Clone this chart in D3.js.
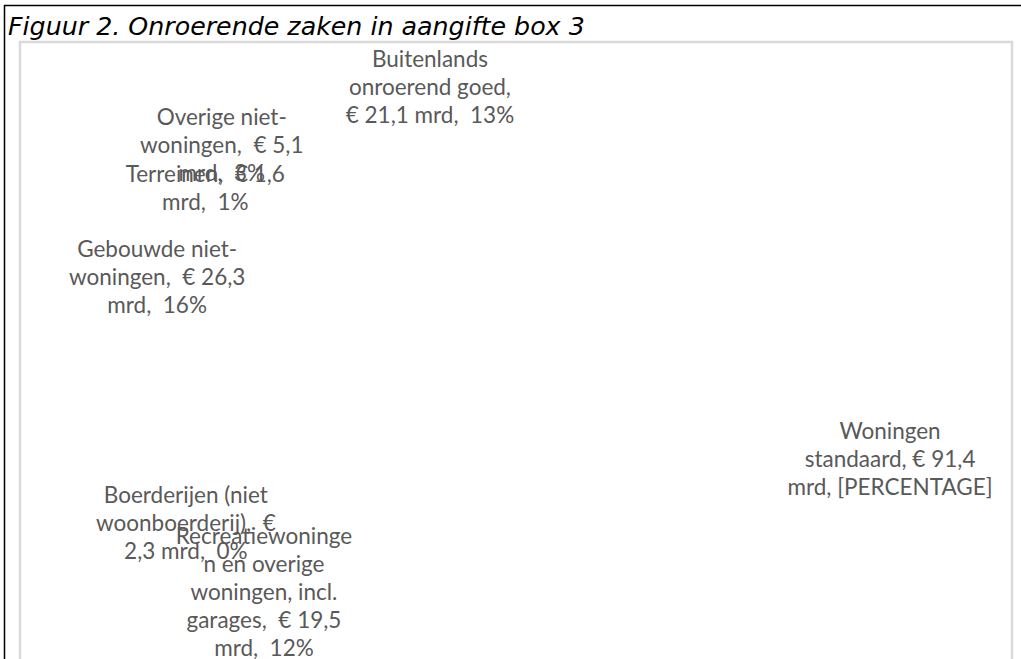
<!DOCTYPE html>
<html lang="nl">
  <head>
    <meta charset="UTF-8" />
    <title>Figuur 2</title>
    <script src="https://d3js.org/d3.v7.min.js"></script>
    <style>
      body { margin: 0; background: #fff; }
      .lbl { white-space: pre; }
    </style>
  </head>
  <body>
    <div id="chart"></div>
    <script>
      // slices, clockwise from 12 o'clock
      const categories = [
        "Woningen standaard",
        "Recreatiewoningen en overige woningen, incl. garages",
        "Boerderijen (niet woonboerderij)",
        "Gebouwde niet-woningen",
        "Terreinen",
        "Overige niet-woningen",
        "Buitenlands onroerend goed",
      ];
      const values = [91.4, 19.5, 2.3, 26.3, 1.6, 5.1, 21.1];
      // data labels as they wrap in the original
      const labelLines = [
        ["Woningen", "standaard, € 91,4", "mrd, [PERCENTAGE]"],
        ["Recreatiewoninge", "n en overige", "woningen, incl.", "garages,  € 19,5", "mrd,  12%"],
        ["Boerderijen (niet", "woonboerderij),  €", "2,3 mrd,  0%"],
        ["Gebouwde niet-", "woningen,  € 26,3", "mrd,  16%"],
        ["Terreinen,  € 1,6", "mrd,  1%"],
        ["Overige niet-", "woningen,  € 5,1", "mrd,  3%"],
        ["Buitenlands", "onroerend goed,", "€ 21,1 mrd,  13%"],
      ];

      // label nudges away from the arc centroid (best-fit placement)
      const nudge = [[93, 79], [-85, 31], [-89, 49], [-83, -53], [-77, -3], [-81, -17], [18, 6]];

      const width = 1021, height = 659;
      const cx = 520, cy = 340, radius = 230, labelR = 280;
      const lineH = 28;

      const svg = d3.select("#chart").append("svg")
        .attr("width", width).attr("height", height);

      // outer cell border (left + top)
      svg.append("line").attr("x1", 4.5).attr("x2", 4.5).attr("y1", 5).attr("y2", height)
        .attr("stroke", "#000").attr("stroke-width", 1.5);
      svg.append("line").attr("x1", 4).attr("x2", width).attr("y1", 5.5).attr("y2", 5.5)
        .attr("stroke", "#000").attr("stroke-width", 1.5);

      // chart area
      svg.append("rect")
        .attr("x", 20).attr("y", 42).attr("width", 992).attr("height", 660)
        .attr("fill", "#fff").attr("stroke", "#d9d9d9").attr("stroke-width", 2.5);

      svg.append("text")
        .attr("x", 8).attr("y", 35)
        .style("font-family", "'DejaVu Sans', Verdana, sans-serif")
        .style("font-style", "italic")
        .style("font-size", "25.3px")
        .attr("fill", "#000")
        .text("Figuur 2. Onroerende zaken in aangifte box 3");

      const pie = d3.pie().sort(null).value(d => d);
      const arcs = pie(values);
      const arc = d3.arc().innerRadius(0).outerRadius(radius);
      const labelArc = d3.arc().innerRadius(labelR).outerRadius(labelR);

      const g = svg.append("g").attr("transform", `translate(${cx},${cy})`);

      // slices have no fill in the original
      g.selectAll("path.slice")
        .data(arcs)
        .join("path")
        .attr("class", "slice")
        .attr("d", arc)
        .attr("fill", "#fff")
        .attr("stroke", "none")
        .append("title").text((d, i) => categories[i]);

      const labels = g.selectAll("text.lbl")
        .data(arcs)
        .join("text")
        .attr("class", "lbl")
        .attr("text-anchor", "middle")
        .style("font-family", "Lato, 'Open Sans', sans-serif")
        .style("font-size", "22.5px")
        .attr("fill", "#595959")
        .attr("transform", (d, i) => {
          const [x, y] = labelArc.centroid(d);
          return `translate(${x + nudge[i][0]},${y + nudge[i][1]})`;
        });

      labels.selectAll("tspan")
        .data((d, i) => labelLines[i].map((t, k, a) => ({ t, k, n: a.length })))
        .join("tspan")
        .attr("x", 0)
        .attr("y", d => (d.k - (d.n - 1) / 2) * lineH + 7)
        .text(d => d.t);
    </script>
  </body>
</html>
